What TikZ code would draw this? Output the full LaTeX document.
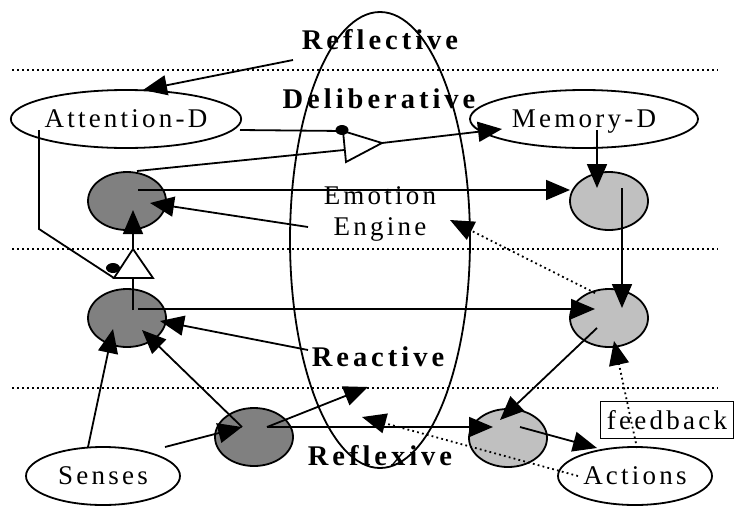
\documentclass[tikz,border=0pt]{standalone}
\usepackage{fontspec}
\usepackage{xcolor}
\usepackage{tikz}
\usetikzlibrary{shapes.geometric,arrows.meta,positioning,calc}
\newfontfamily\diagfont[LetterSpace=12]{Liberation Serif}
\newfontfamily\layerfont[LetterSpace=14]{Liberation Serif}
\definecolor{cellgray}{RGB}{128,128,128}
\definecolor{cellsilver}{RGB}{192,192,192}

\begin{document}
\begin{tikzpicture}[
    x=1pt, y=-1pt,
    >={Triangle[length=24pt,width=20pt]},
    line width=1.8pt,
    oval/.style={
        ellipse, draw, inner sep=0pt,
        minimum width=228pt, minimum height=58pt,
        text depth=0pt, font=\diagfont\fontsize{27}{31}\selectfont
    },
    smalloval/.style={oval, minimum width=154pt},
    darkcell/.style={
        ellipse, draw, fill=cellgray, inner sep=0pt,
        minimum width=78pt, minimum height=58pt
    },
    lightcell/.style={darkcell, fill=cellsilver},
    layer/.style={inner sep=0pt, font=\layerfont\fontsize{28.5}{32}\selectfont\bfseries},
    sep/.style={line width=1.6pt, dash pattern=on 1.8pt off 3.2pt},
    arrow/.style={->},
    dotarrow/.style={->, dash pattern=on 1.8pt off 3.2pt},
    gate/.style={draw, fill=white, line join=miter},
    pin/.style={ellipse, fill=black, inner sep=0pt, minimum width=13pt, minimum height=10pt}
]
\useasboundingbox (0,0) rectangle (736,507);

% layer borders
\draw[sep] (12,70) -- (718,70);
\draw[sep] (12,249) -- (718,249);
\draw[sep] (12,388) -- (718,388);

% emotion engine
\node[ellipse, draw, minimum width=180pt, minimum height=456pt] (engine) at (380,240) {};
\node[align=center, inner sep=0pt, font=\diagfont\fontsize{27}{31}\selectfont] (emotext) at (380,214) {Emotion\\Engine};

% layer names
\node[layer] (refl) at (380,40) {Reflective};
\node[layer] (delib) at (379,99) {Deliberative};
\node[layer] (react) at (378,357) {Reactive};
\node[layer] (reflx) at (380,456) {Reflexive};

% ovals
\node[oval] (attn) at (126,119) {Attention-D};
\node[oval] (mem) at (584,119) {Memory-D};
\node[smalloval] (senses) at (103,476) {Senses};
\node[smalloval] (actions) at (635,476) {Actions};
\node[draw, line width=1.6pt, minimum width=133pt, minimum height=37pt, inner sep=0pt,
      font=\diagfont\fontsize{27}{31}\selectfont] (feedback) at (667,420) {feedback};

% cells
\node[darkcell] (d1) at (127,201) {};
\node[darkcell] (d2) at (127,318) {};
\node[darkcell] (d3) at (254,437) {};
\node[lightcell] (l1) at (609,201) {};
\node[lightcell] (l2) at (609,318) {};
\node[lightcell] (l3) at (508,438) {};

% gate corners
\coordinate (g1a) at (343,131);
\coordinate (g1b) at (346,162);
\coordinate (g1c) at (382,143);
\coordinate (g1in) at (344,150);
\coordinate (g2a) at (133,249);
\coordinate (g2b) at (114,278);
\coordinate (g2c) at (153,278);
\coordinate (g2in) at (133,278);

% free ends
\coordinate (reflout) at (293,60);
\coordinate (attntop) at (143,90);
\coordinate (attnright) at (240,130);
\coordinate (attnleft) at (39,130);
\coordinate (bend) at (39,229);
\coordinate (d1top) at (137,171);
\coordinate (d1c) at (138,190);
\coordinate (d1in) at (150,203);
\coordinate (d1bot) at (133,210);
\coordinate (memin) at (502,129);
\coordinate (memout) at (597,130);
\coordinate (l1top) at (597,188);
\coordinate (l1west) at (570,190);
\coordinate (l1c) at (622,188);
\coordinate (emoout) at (308,227);
\coordinate (emoin) at (450,220);
\coordinate (l2top) at (622,308);
\coordinate (l2out) at (595,293);
\coordinate (l2west) at (595,309);
\coordinate (l2low) at (597,328);
\coordinate (l2bot) at (614,341);
\coordinate (d2c) at (133,310);
\coordinate (d2c2) at (138,309);
\coordinate (d2in) at (160,321);
\coordinate (d2low) at (113,329);
\coordinate (d2low2) at (142,330);
\coordinate (reactout) at (308,350);
\coordinate (sensesout) at (88,447);
\coordinate (sensesout2) at (165,447);
\coordinate (d3c) at (242,427);
\coordinate (d3out) at (267,427);
\coordinate (reflin) at (368,387);
\coordinate (reflxin) at (362,417);
\coordinate (l3west) at (493,427);
\coordinate (l3top) at (500,420);
\coordinate (l3out) at (520,427);
\coordinate (actin) at (597,448);
\coordinate (actout) at (578,476);
\coordinate (actup) at (637,448);

% connectors
\draw[arrow] (reflout) -- (attntop);
\draw (attnright) -- (g1a);
\draw (d1top) -- (g1in);
\draw[arrow] (g1c) -- (memin);
\draw[arrow] (memout) -- (l1top);
\draw[arrow] (d1c) -- (l1west);
\draw[arrow] (emoout) -- (d1in);
\draw[arrow] (l1c) -- (l2top);
\draw[dotarrow] (l2out) -- (emoin);
\draw (attnleft) -- (bend) -- (g2b);
\draw (d2c) -- (g2in);
\draw[arrow] (g2a) -- (d1bot);
\draw[arrow] (d2c2) -- (l2west);
\draw[arrow] (reactout) -- (d2in);
\draw[arrow] (sensesout) -- (d2low);
\draw[arrow] (d3c) -- (d2low2);
\draw[arrow] (sensesout2) -- (d3c);
\draw[arrow] (d3out) -- (reflin);
\draw[arrow] (d3out) -- (l3west);
\draw[dotarrow] (actout) -- (reflxin);
\draw[arrow] (l2low) -- (l3top);
\draw[arrow] (l3out) -- (actin);
\draw[dotarrow] (actup) -- (l2bot);

% gates
\draw[gate] (g1a) -- (g1c) -- (g1b) -- cycle;
\draw[gate] (g2a) -- (g2c) -- (g2b) -- cycle;
\node[pin] (pin1) at (342,130) {};
\node[pin, minimum width=14pt] (pin2) at (113,268) {};

\end{tikzpicture}
\end{document}
